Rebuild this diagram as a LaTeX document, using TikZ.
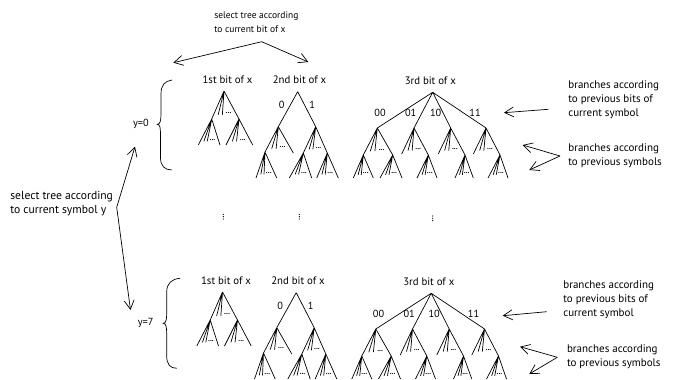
\documentclass[tikz,border=0pt]{standalone}
\usepackage{fontspec}
\setmainfont{PT Sans}
\usetikzlibrary{arrows.meta,calc}
\tikzset{
  lbl/.style={font=\fontsize{10.8}{12}\selectfont, inner sep=0pt},
  blbl/.style={font=\fontsize{10.3}{12}\selectfont, inner sep=0pt},
  topnote/.style={font=\fontsize{9.5}{14}\selectfont, align=left, inner sep=0pt, anchor=north west},
  leftnote/.style={font=\fontsize{11.6}{14.3}\selectfont, align=left, inner sep=0pt, anchor=north west},
  note/.style={font=\fontsize{11}{13.8}\selectfont, align=left, inner sep=0pt, anchor=north west},
  dotsn/.style={font=\fontsize{7.5}{7.5}\selectfont\bfseries, inner sep=0pt},
  arr/.style={-{Straight Barb[length=9pt,width=10pt]}},
}
\newcommand\fan[3]{%
  \coordinate (fa) at ($(#2)!0.2!(#3)$);
  \coordinate (fb) at ($(#2)!0.38!(#3)$);
  \coordinate (fc) at ($(#2)!0.66!(#3)$);
  \draw (#1) -- (#2) (#1) -- (#3) (#1) -- ($(#1)!0.86!(fa)$) (#1) -- ($(#1)!0.86!(fb)$);
  \node[dotsn] at ($(#1)!0.8!(fc)$) {...};
}
\newcommand\vdotsat[1]{%
  \fill ($(#1)+(0,-2.3)$) circle (0.65) (#1) circle (0.65) ($(#1)+(0,2.3)$) circle (0.65);
}
\newcommand\trees{%
  % tree 1
  \node[lbl] (ta) at (227.5,79.5) {1st bit of x};
  \fan{224,91}{211.7,119}{239,119}
  \fan{211.7,119}{198.3,145}{220,145}
  \fan{239,119}{226,145}{252.7,145}
  % tree 2
  \node[lbl] (tb) at (299.5,79.5) {2nd bit of x};
  \draw (297.7,91.7) -- (278.3,126.7) (297.7,91.7) -- (315.7,126.7);
  \node[blbl] at (281.7,105) {0};
  \node[blbl] at (312.3,105) {1};
  \fan{278.3,126.7}{265,152}{293.3,153}
  \fan{265,152}{256,178}{276.7,178}
  \fan{315.7,126.7}{303.3,153}{327.3,153}
  \fan{303.3,153}{289.3,178}{311.7,178}
  \fan{327.3,153}{316.7,178}{338.3,178}
  % tree 3
  \node[lbl] (tc) at (430.3,80.5) {3rd bit of x};
  \draw (432.7,92.3) -- (377.3,128) (432.7,92.3) -- (414,128)
        (432.7,92.3) -- (450.7,128) (432.7,92.3) -- (486,128);
  \node[blbl] at (380,113.3) {00};
  \node[blbl] at (410.7,113.3) {01};
  \node[blbl] at (435.7,113) {10};
  \node[blbl] at (475,112.5) {11};
  \fan{377.3,128}{363.3,155}{392.7,155}
  \fan{363.3,155}{353.3,178}{373.3,178}
  \fan{392.7,155}{380,178}{402,178}
  \fan{414,128}{401.7,154}{428.3,155}
  \fan{428.3,155}{417,178}{437,178}
  \fan{450.7,128}{438.3,154}{465,155}
  \fan{465,155}{455,178}{473.3,178}
  \fan{486,128}{473.3,154}{500,155}
  \fan{500,155}{488,178}{508,178}
}
\begin{document}
\begin{tikzpicture}[x=1pt,y=-1pt,line width=0.7pt]
\path[use as bounding box, clip] (0,0) rectangle (683,380);
\fill[white] (0,0) rectangle (683,380);
% top note
\node[topnote] (selx) at (214,11.5) {select tree according\\to current bit of x};
\coordinate (bitv) at (261.7,41.7);
\coordinate (bitl) at (173.3,62.7);
\coordinate (bitr) at (308.3,62);
\draw[arr] (bitv) -- (bitl);
\draw[arr] (bitv) -- (bitr);
% left note
\node[leftnote] (sely) at (10,190.5) {select tree according\\to current symbol y};
\coordinate (symv) at (116.7,207.3);
\coordinate (symt) at (135,146.7);
\coordinate (symb) at (130.5,310);
\draw[{Straight Barb[length=9pt,width=10pt]}-{Straight Barb[length=9pt,width=10pt]}] (symt) -- (symv) -- (symb);
% y labels and braces
\node[blbl] (y0) at (141,124.3) {y=0};
\node[blbl] (y7) at (145.7,323.3) {y=7};
\draw (172,80) .. controls (165,81) and (161,85) .. (161,94) -- (161,114)
      .. controls (161,121) and (160,124.3) .. (157.3,124.3)
      .. controls (160,124.3) and (160.5,128) .. (160.5,135) -- (160.5,158)
      .. controls (160.5,166) and (165,170) .. (171.7,170);
\draw (180,278.3) .. controls (172,279) and (166.7,283) .. (166.7,292) -- (166.7,313)
      .. controls (166.7,320) and (166,323.3) .. (163.3,323.3)
      .. controls (166,323.3) and (166.7,327) .. (166.7,334) -- (166.7,356)
      .. controls (166.7,364) and (170,368.3) .. (176.7,368.3);
% trees
\trees
\begin{scope}[shift={(-1.5,201)}]
\trees
\end{scope}
% vertical dots
\vdotsat{223.3,216.7}
\vdotsat{299.3,216.7}
\vdotsat{432.7,218.3}
% right notes upper
\node[note] (bp1) at (568,80.5) {branches according\\to previous bits of\\current symbol};
\coordinate (bp1s) at (548.3,109.3);
\coordinate (bp1t) at (504,112.7);
\draw[arr] (bp1s) -- (bp1t);
\node[note] (ps1) at (568,143.5) {branches according\\to previous symbols};
\coordinate (ps1v) at (560,156);
\coordinate (ps1a) at (522.7,145);
\coordinate (ps1b) at (529.3,170);
\draw[arr] (ps1v) -- (ps1a);
\draw[arr] (ps1v) -- (ps1b);
% right notes lower
\node[note] (bp2) at (563,280.5) {branches according\\to previous bits of\\current symbol};
\coordinate (bp2s) at (546.7,311.7);
\coordinate (bp2t) at (502.7,315.7);
\draw[arr] (bp2s) -- (bp2t);
\node[note] (ps2) at (566.7,344.5) {branches according\\to previous symbols};
\coordinate (ps2v) at (557.3,357.3);
\coordinate (ps2a) at (520,346.7);
\coordinate (ps2b) at (529.3,374);
\draw[arr] (ps2v) -- (ps2a);
\draw[arr] (ps2v) -- (ps2b);
\end{tikzpicture}
\end{document}
